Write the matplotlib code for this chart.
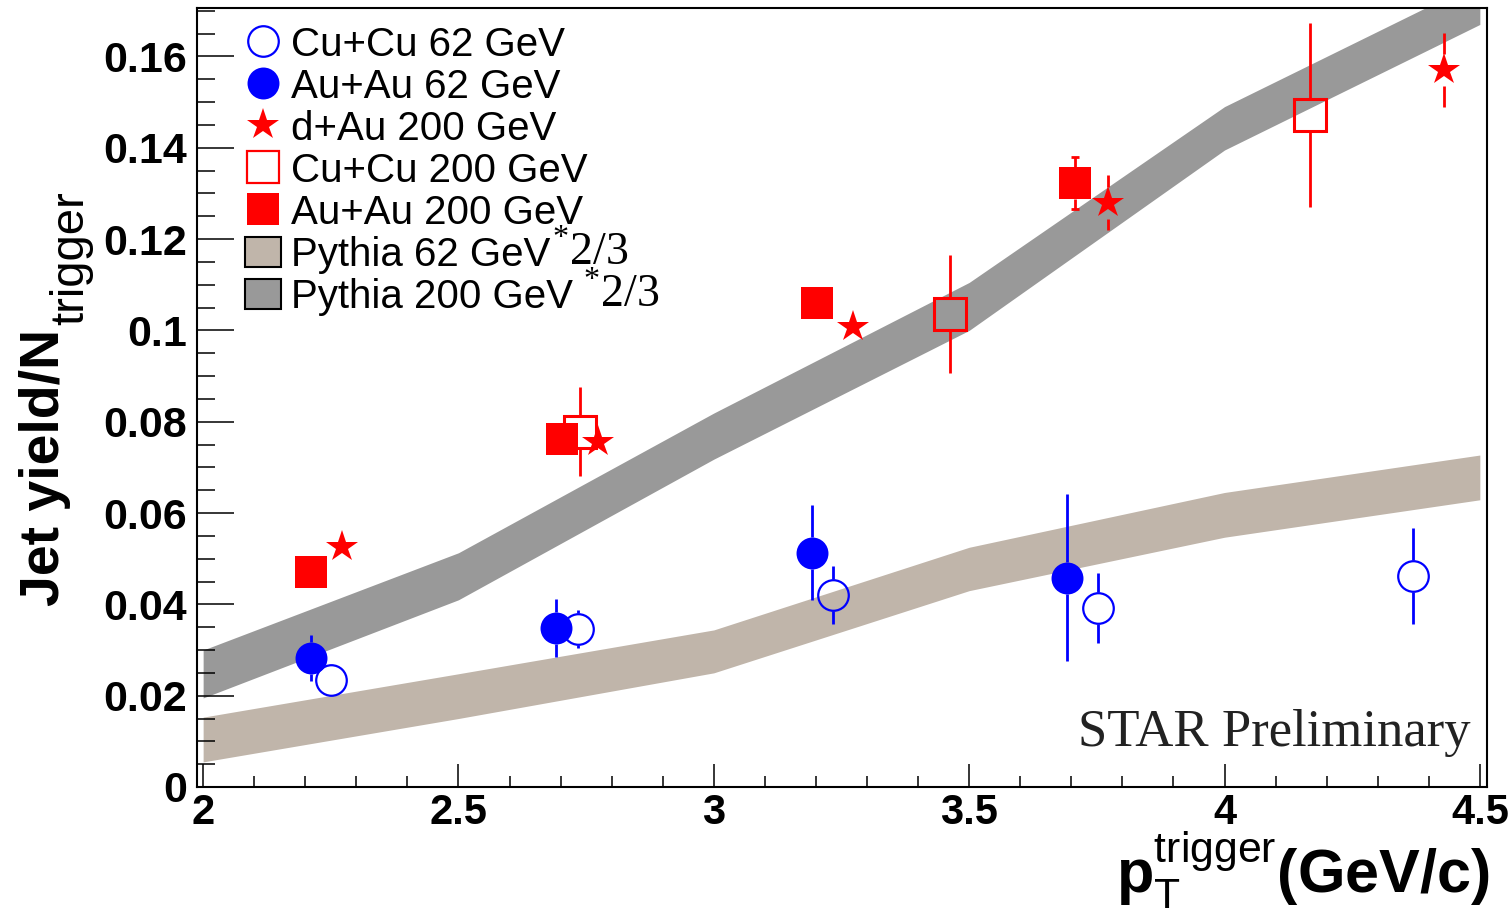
import matplotlib.pyplot as plt
from matplotlib.lines import Line2D
from matplotlib.patches import Patch
from matplotlib.ticker import MultipleLocator, FuncFormatter

plt.rcParams['font.family'] = 'Liberation Sans'
plt.rcParams['mathtext.fontset'] = 'custom'
plt.rcParams['mathtext.rm'] = 'Liberation Serif'
plt.rcParams['mathtext.sf'] = 'Liberation Sans'
plt.rcParams['mathtext.bf'] = 'Liberation Sans:bold'
plt.rcParams['mathtext.it'] = 'Liberation Sans:italic'

# pythia bands (lower / upper edge), already scaled by 2/3
band_x = [2.0, 2.5, 3.0, 3.5, 4.0, 4.5]
py62_lo = [0.0055, 0.0150, 0.0250, 0.0430, 0.0547, 0.0629]
py62_hi = [0.0153, 0.0248, 0.0344, 0.0525, 0.0645, 0.0727]
py200_lo = [0.0195, 0.0410, 0.0718, 0.1000, 0.1395, 0.1670]
py200_hi = [0.0300, 0.0513, 0.0819, 0.1105, 0.1490, 0.1765]

# data points
cucu62_x = [2.250, 2.735, 3.233, 3.752, 4.370]
cucu62_y = [0.0234, 0.0346, 0.0420, 0.0392, 0.0462]
cucu62_e = [0.0020, 0.0042, 0.0064, 0.0077, 0.0105]

auau62_x = [2.211, 2.690, 3.193, 3.691]
auau62_y = [0.0283, 0.0348, 0.0513, 0.0458]
auau62_e = [0.0050, 0.0064, 0.0104, 0.0183]

dau200_x = [2.272, 2.773, 3.272, 3.771, 4.430]
dau200_y = [0.0526, 0.0756, 0.1008, 0.1280, 0.1570]
dau200_e = [0.0020, 0.0030, 0.0020, 0.0060, 0.0081]

cucu200_x = [2.738, 3.463, 4.167]
cucu200_y = [0.0778, 0.1036, 0.1472]
cucu200_e = [0.0098, 0.0129, 0.0201]

auau200_x = [2.211, 2.702, 3.203, 3.708]
auau200_y = [0.0471, 0.0762, 0.1060, 0.1323]
auau200_e = [0.0020, 0.0020, 0.0020, 0.0057]

labels = ['Cu+Cu 62 GeV', 'Au+Au 62 GeV', 'd+Au 200 GeV', 'Cu+Cu 200 GeV',
          'Au+Au 200 GeV', 'Pythia 62 GeV', 'Pythia 200 GeV']
scale_note = r'$^{*}\mathrm{2/3}$'

BEIGE = '#c0b5aa'
GREY = '#999999'
MS = 23

fig = plt.figure(figsize=(15.12, 9.15), dpi=100)
ax = fig.add_axes([197 / 1512, 1 - 787 / 915, 1290 / 1512, 779 / 915])
ax.set_xlim(1.988, 4.514)
ax.set_ylim(0, 0.1706)

ax.fill_between(band_x, py62_lo, py62_hi, color=BEIGE, lw=0, zorder=1)
ax.fill_between(band_x, py200_lo, py200_hi, color=GREY, lw=0, zorder=1)

# pixel size of one data unit in y, used to keep error bars off the markers
ppu = ax.transData.transform((0, 1))[1] - ax.transData.transform((0, 0))[1]
gap = 16 / ppu


def errs(x, y, e, color, lw=2.0, cap=False):
    for xi, yi, ei in zip(x, y, e):
        if ei <= gap:
            continue
        ax.vlines([xi, xi], [yi + gap, yi - ei], [yi + ei, yi - gap],
                  color=color, lw=lw, zorder=2)
        if cap:
            ax.hlines([yi + ei, yi - ei], xi - 0.008, xi + 0.008,
                      color=color, lw=lw, zorder=2)


errs(cucu62_x, cucu62_y, cucu62_e, 'blue')
errs(auau62_x, auau62_y, auau62_e, 'blue')
errs(dau200_x, dau200_y, dau200_e, 'red')
errs(cucu200_x, cucu200_y, cucu200_e, 'red')
errs(auau200_x, auau200_y, auau200_e, 'red', cap=True)

ax.plot(cucu200_x, cucu200_y, ls='none', marker='s', ms=MS, mfc='none',
        mec='red', mew=2.2, zorder=3)
ax.plot(auau200_x, auau200_y, ls='none', marker='s', ms=MS, mfc='red',
        mec='red', mew=0, zorder=4)
ax.plot(dau200_x, dau200_y, ls='none', marker='*', ms=MS + 1, mfc='red',
        mec='red', mew=0, zorder=4)
ax.plot(auau62_x, auau62_y, ls='none', marker='o', ms=MS, mfc='blue',
        mec='blue', mew=0, zorder=4)
ax.plot(cucu62_x, cucu62_y, ls='none', marker='o', ms=MS - 1, mfc='none',
        mec='blue', mew=1.6, zorder=5)

handles = [
    Line2D([], [], ls='none', marker='o', ms=MS - 1, mfc='none', mec='blue', mew=1.6),
    Line2D([], [], ls='none', marker='o', ms=MS, mfc='blue', mec='blue', mew=0),
    Line2D([], [], ls='none', marker='*', ms=MS + 1, mfc='red', mec='red', mew=0),
    Line2D([], [], ls='none', marker='s', ms=MS, mfc='none', mec='red', mew=1.6),
    Line2D([], [], ls='none', marker='s', ms=MS, mfc='red', mec='red', mew=0),
    Patch(facecolor=BEIGE, edgecolor='black', lw=1.5),
    Patch(facecolor=GREY, edgecolor='black', lw=1.5),
]
leg = ax.legend(handles, labels, loc='upper left', bbox_to_anchor=(0.037, 0.977),
                frameon=False, fontsize=29, borderpad=0, borderaxespad=0,
                handlelength=0.9, handleheight=0.78, handletextpad=0.25,
                labelspacing=0.1)
leg.set_zorder(5)
# the "*2/3" scale factor is set in a serif face right after the Pythia labels
# (drawn after the legend so that the label positions are known)
for txt, dx in zip(leg.get_texts()[5:], [1, 7]):
    ax.annotate(scale_note, xy=(1, 0), xycoords=txt, xytext=(dx, 6.2),
                textcoords='offset points', ha='left', va='baseline',
                fontsize=33, color='black', zorder=6)

ax.text(0.987, 0.052, 'STAR Preliminary', transform=ax.transAxes,
        ha='right', va='baseline', fontsize=38, family='Liberation Serif',
        color='#222222')

# axes, ROOT style
ax.xaxis.set_major_locator(MultipleLocator(0.5))
ax.xaxis.set_minor_locator(MultipleLocator(0.1))
ax.yaxis.set_major_locator(MultipleLocator(0.02))
ax.yaxis.set_minor_locator(MultipleLocator(0.005))
fmt = FuncFormatter(lambda v, p: '%g' % round(v, 3))
ax.xaxis.set_major_formatter(fmt)
ax.yaxis.set_major_formatter(fmt)
ax.tick_params(which='both', direction='in', top=False, right=False, width=1.1)
ax.xaxis.set_tick_params(which='major', length=16.5, pad=4)
ax.xaxis.set_tick_params(which='minor', length=8)
ax.yaxis.set_tick_params(which='major', length=26.5, pad=7)
ax.yaxis.set_tick_params(which='minor', length=13)
for lab in ax.get_xticklabels() + ax.get_yticklabels():
    lab.set_fontweight('bold')
ax.xaxis.set_tick_params(labelsize=30)
ax.yaxis.set_tick_params(labelsize=31)
for sp in ax.spines.values():
    sp.set_linewidth(1.5)

ax.set_ylabel('Jet yield/N', fontsize=40, fontweight='bold')
ax.yaxis.set_label_coords(-0.098, 0.41)
ax.annotate('trigger', xy=(1, 1), xycoords=ax.yaxis.label, xytext=(9, 3),
            textcoords='offset points', rotation=90, rotation_mode='anchor',
            ha='left', va='baseline', fontsize=34)
ax.set_xlabel(r'p$_{\mathsf{T}}^{\mathsf{trigger}}$(GeV/c)', fontsize=44,
              fontweight='bold', ha='right')
ax.xaxis.set_label_coords(1.002, -0.055)

fig.savefig('out.png', dpi=100)
